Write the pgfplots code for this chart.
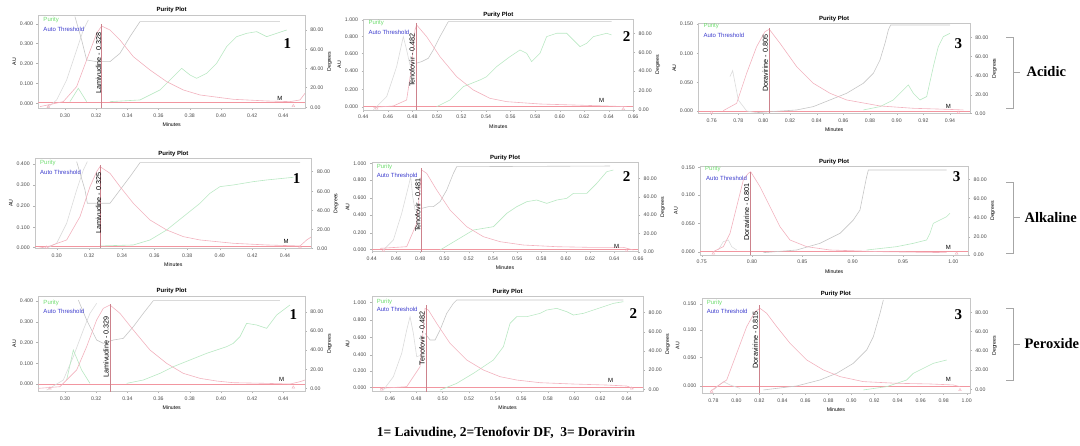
\documentclass[border=0pt]{standalone}
\usepackage{fontspec}
\setmainfont{Liberation Serif}
\setsansfont{Liberation Sans}
\usepackage{pgfplots}
\pgfplotsset{compat=1.18}
\definecolor{pinkc}{RGB}{242,178,190}
\definecolor{greenc}{RGB}{185,232,195}
\definecolor{redc}{RGB}{242,150,160}
\definecolor{vlc}{RGB}{205,130,140}
\definecolor{purc}{RGB}{110,220,110}
\definecolor{thrc}{RGB}{60,60,205}
\newcommand\ftl{\fontsize{5.2}{6}\selectfont\sffamily}
\newcommand\fttl{\fontsize{6}{7}\selectfont\sffamily\bfseries}
\newcommand\flg{\fontsize{6}{7}\selectfont\sffamily}
\newcommand\fvt{\fontsize{7.2}{8}\selectfont\sffamily}
\newcommand\fbn{\fontsize{15}{16}\selectfont\rmfamily\bfseries}
\newcommand\fsm{\fontsize{6}{7}\selectfont\sffamily}
\newcommand\fsect{\fontsize{14.5}{16}\selectfont\rmfamily\bfseries}
\newcommand\fcapt{\fontsize{13.5}{15}\selectfont\rmfamily\bfseries}
\pgfplotsset{
 pl/.style={scale only axis, anchor=north west, y dir=reverse, clip=true,
   axis line style={gray!45, line width=0.4pt},
   xtick pos=bottom, ytick pos=left,
   tick align=outside, major tick length=1.8pt, minor tick length=1pt,
   tick style={gray!60, line width=0.3pt},
   minor x tick num=3,
   tick label style={font=\ftl, text=black!70},
   title={Purity Plot}, title style={font=\fttl, yshift=-7.5pt},
   xlabel={Minutes}, xlabel style={font=\ftl, yshift=1.5pt},
   ylabel={AU}, ylabel style={font=\ftl, yshift=-3pt}},
 pr/.style={scale only axis, anchor=north west, y dir=reverse,
   axis x line=none, axis y line*=right,
   axis line style={gray!45, line width=0.4pt},
   tick align=outside, major tick length=1.8pt,
   tick style={gray!60, line width=0.3pt},
   tick label style={font=\ftl, text=black!70},
   ylabel={Degrees}, ylabel style={font=\ftl, yshift=3pt}},
 pk/.style={color=pinkc, line width=0.6pt},
 gu/.style={color=gray!45, line width=0.6pt},
 gl/.style={color=gray!28, line width=0.6pt},
 gr/.style={color=greenc, line width=0.6pt},
 bl/.style={color=redc, line width=0.4pt},
 tri/.style={only marks, mark=triangle, mark size=1.6pt, mark options={draw=pinkc, line width=0.4pt}},
 vl/.style={color=vlc, line width=0.5pt},
}
\begin{document}
\begin{tikzpicture}
\useasboundingbox (0,0) rectangle (1080pt,446pt);
% ================= Row 1 col 1
\begin{axis}[pl, at={(38.3pt,431pt)}, width=266.7pt, height=93.3pt,
  xmin=115, xmax=915, ymin=45, ymax=325,
  xtick={195,288.6,382.1,475.7,569.3,662.9,756.4,850},
  xticklabels={0.30,0.32,0.34,0.36,0.38,0.40,0.42,0.44},
  ytick={72,130,190,250,310}, yticklabels={0.400,0.300,0.200,0.100,0.000}]
\addplot[bl] coordinates {(115,308)(915,308)};
\addplot[gl] coordinates {(140,325)(170,300)(200,240)(230,150)(250,90)(265,60)};
\addplot[gu] coordinates {(225,50)(245,120)(260,180)(290,185)(330,185)(360,160)(390,110)(420,65)(840,65)};
\addplot[gr] coordinates {(210,305)(235,265)(260,305)};
\addplot[gr] coordinates {(330,305)(420,300)(480,270)(520,230)(545,205)(570,225)(590,235)(620,220)(650,190)(680,140)(710,110)(740,100)(770,95)(800,110)(830,100)(860,90)};
\addplot[pk] coordinates {(120,320)(190,305)(230,260)(260,180)(290,100)(305,78)(330,90)(360,120)(400,170)(450,210)(500,245)(550,270)(600,285)(700,298)(800,303)(870,305)(900,300)(915,280)};
\addplot[vl] coordinates {(305,325)(305,72)};
\addplot[tri] coordinates {(145,320)(880,318)};
\node[rotate=90, font=\fvt] at (axis cs:296,190) {Lamivudine - 0.328};
\node[font=\flg, text=purc, anchor=west] at (axis cs:120,60) {Purity};
\node[font=\flg, text=thrc, anchor=west] at (axis cs:120,88) {Auto Threshold};
\node[font=\fbn] at (axis cs:862,130) {1};
\node[font=\fsm] at (axis cs:840,295) {M};
\end{axis}
\begin{axis}[pr, at={(38.3pt,431pt)}, width=266.7pt, height=93.3pt,
  xmin=115, xmax=915, ymin=45, ymax=325,
  ytick={90,148,205,262,322}, yticklabels={80.00,60.00,40.00,20.00,0.00}]
\end{axis}
% ================= Row 1 col 2
\begin{axis}[pl, at={(363.3pt,426.7pt)}, width=270pt, height=90.7pt,
  xmin=70, xmax=880, ymin=58, ymax=330,
  xtick={70,143.6,217.3,290.9,364.5,438.2,511.8,585.5,659.1,732.7,806.4,880},
  xticklabels={0.44,0.46,0.48,0.50,0.52,0.54,0.56,0.58,0.60,0.62,0.64,0.66},
  ytick={60,110,160,213,268,320}, yticklabels={1.000,0.800,0.600,0.400,0.200,0.000}]
\addplot[bl] coordinates {(70,320)(880,320)};
\addplot[gl] coordinates {(100,330)(140,290)(170,200)(190,110)(200,150)(210,195)(225,190)};
\addplot[gu] coordinates {(228,190)(245,185)(265,175)(280,150)(300,110)(325,65)(815,65)};
\addplot[gr] coordinates {(290,320)(330,300)(370,260)(420,240)(440,230)(470,200)(510,170)(540,150)(560,160)(575,185)(600,160)(620,110)(650,100)(680,100)(700,120)(720,140)(740,130)(760,110)(780,105)(800,100)(815,105)};
\addplot[pk] coordinates {(100,322)(160,318)(200,300)(215,200)(225,90)(230,75)(260,110)(300,170)(350,230)(400,270)(450,295)(500,305)(600,312)(700,315)(800,318)(860,320)};
\addplot[vl] coordinates {(228,330)(228,70)};
\addplot[tri] coordinates {(110,325)(850,327)};
\node[rotate=90, font=\fvt] at (axis cs:216,180) {Tenofovir - 0.482};
\node[font=\flg, text=purc, anchor=west] at (axis cs:75,70) {Purity};
\node[font=\flg, text=thrc, anchor=west] at (axis cs:75,98) {Auto Threshold};
\node[font=\fbn] at (axis cs:860,110) {2};
\node[font=\fsm] at (axis cs:785,300) {M};
\end{axis}
\begin{axis}[pr, at={(363.3pt,426.7pt)}, width=270pt, height=90.7pt,
  xmin=70, xmax=880, ymin=58, ymax=330,
  ytick={100,157,213,272,330}, yticklabels={80.00,60.00,40.00,20.00,0.00}]
\end{axis}
% ================= Row 1 col 3
\begin{axis}[pl, at={(698.3pt,422.7pt)}, width=271.7pt, height=90pt,
  xmin=55, xmax=870, ymin=70, ymax=340,
  xtick={95,175,250,330,410,490,570,650,730,810},
  xticklabels={0.76,0.78,0.80,0.82,0.84,0.86,0.88,0.90,0.92,0.94},
  ytick={72,160,248,333}, yticklabels={0.150,0.100,0.050,0.000}]
\addplot[bl] coordinates {(55,335)(870,335)};
\addplot[gl] coordinates {(150,230)(158,212)(175,300)(200,333)(230,338)};
\addplot[gu] coordinates {(230,338)(350,330)(400,320)(450,300)(500,280)(550,250)(580,220)(600,180)(615,130)(625,90)(632,75)(810,75)};
\addplot[gr] coordinates {(550,330)(600,320)(640,300)(670,270)(685,255)(700,280)(720,300)(740,290)(760,200)(775,140)(790,110)(810,100)};
\addplot[pk] coordinates {(130,332)(170,310)(200,220)(230,140)(255,95)(268,88)(300,130)(350,200)(400,250)(450,280)(500,300)(600,318)(700,325)(800,328)(850,330)};
\addplot[vl] coordinates {(268,340)(268,85)};
\addplot[tri] coordinates {(95,338)(835,338)};
\node[rotate=90, font=\fvt] at (axis cs:256,190) {Doravirine - 0.805};
\node[font=\flg, text=purc, anchor=west] at (axis cs:60,78) {Purity};
\node[font=\flg, text=thrc, anchor=west] at (axis cs:60,105) {Auto Threshold};
\node[font=\fbn] at (axis cs:835,130) {3};
\node[font=\fsm] at (axis cs:805,318) {M};
\end{axis}
\begin{axis}[pr, at={(698.3pt,422.7pt)}, width=271.7pt, height=90pt,
  xmin=55, xmax=870, ymin=70, ymax=340,
  ytick={112,170,228,285,340}, yticklabels={80.00,60.00,40.00,20.00,0.00}]
\end{axis}
% ================= Row 2 col 1
\begin{axis}[pl, at={(35pt,287.7pt)}, width=276.7pt, height=90pt,
  xmin=105, xmax=935, ymin=55, ymax=325,
  xtick={170,267.9,365.7,463.6,561.4,659.3,757.1,855},
  xticklabels={0.30,0.32,0.34,0.36,0.38,0.40,0.42,0.44},
  ytick={72,135,198,262,322}, yticklabels={0.400,0.300,0.200,0.100,0.000}]
\addplot[bl] coordinates {(105,318)(935,318)};
\addplot[gl] coordinates {(140,325)(170,310)(200,250)(230,150)(250,90)(262,65)};
\addplot[gu] coordinates {(230,65)(255,150)(262,190)(330,190)(360,150)(390,110)(420,68)(900,68)};
\addplot[gr] coordinates {(300,318)(400,315)(450,300)(500,270)(550,230)(600,190)(630,160)(660,140)(700,135)(730,130)(760,125)(800,120)(850,115)(880,112)};
\addplot[pk] coordinates {(115,325)(150,318)(200,300)(240,230)(270,140)(290,95)(300,80)(330,100)(360,140)(400,190)(450,240)(500,270)(550,290)(600,300)(700,310)(800,315)(900,318)(920,300)(935,290)};
\addplot[vl] coordinates {(300,325)(300,75)};
\addplot[tri] coordinates {(140,322)(900,322)};
\node[rotate=90, font=\fvt] at (axis cs:296,190) {Lamivudine - 0.325};
\node[font=\flg, text=purc, anchor=west] at (axis cs:110,70) {Purity};
\node[font=\flg, text=thrc, anchor=west] at (axis cs:110,97) {Auto Threshold};
\node[font=\fbn] at (axis cs:890,115) {1};
\node[font=\fsm] at (axis cs:858,305) {M};
\end{axis}
\begin{axis}[pr, at={(35pt,287.7pt)}, width=276.7pt, height=90pt,
  xmin=105, xmax=935, ymin=55, ymax=325,
  ytick={95,155,212,268,325}, yticklabels={80.00,60.00,40.00,20.00,0.00}]
\end{axis}
% ================= Row 2 col 2
\begin{axis}[pl, at={(371.7pt,283.3pt)}, width=266.7pt, height=89pt,
  xmin=95, xmax=895, ymin=68, ymax=335,
  xtick={95,167.7,240.5,313.2,385.9,458.6,531.4,604.1,676.8,749.5,822.3,895},
  xticklabels={0.44,0.46,0.48,0.50,0.52,0.54,0.56,0.58,0.60,0.62,0.64,0.66},
  ytick={70,120,173,225,278,328}, yticklabels={1.000,0.800,0.600,0.400,0.200,0.000}]
\addplot[bl] coordinates {(95,328)(895,328)};
\addplot[gl] coordinates {(130,330)(160,300)(185,220)(205,140)(212,110)(218,170)(225,210)(240,210)};
\addplot[gu] coordinates {(245,205)(265,200)(280,200)(300,185)(320,150)(340,100)(350,80)(810,78)};
\addplot[gr] coordinates {(300,330)(350,300)(400,270)(430,265)(460,260)(500,220)(530,200)(560,185)(590,180)(620,190)(650,180)(680,175)(700,160)(740,160)(770,130)(800,95)(820,90)};
\addplot[pk] coordinates {(120,325)(200,320)(230,250)(245,90)(260,100)(290,150)(330,210)(380,260)(430,290)(480,305)(550,315)(650,320)(750,322)(850,322)(880,330)};
\addplot[vl] coordinates {(245,335)(245,85)};
\addplot[tri] coordinates {(130,332)(860,332)};
\node[rotate=90, font=\fvt] at (axis cs:233,195) {Tenofovir - 0.481};
\node[font=\flg, text=purc, anchor=west] at (axis cs:100,80) {Purity};
\node[font=\flg, text=thrc, anchor=west] at (axis cs:100,105) {Auto Threshold};
\node[font=\fbn] at (axis cs:860,110) {2};
\node[font=\fsm] at (axis cs:830,318) {M};
\end{axis}
\begin{axis}[pr, at={(371.7pt,283.3pt)}, width=266.7pt, height=89pt,
  xmin=95, xmax=895, ymin=68, ymax=335,
  ytick={115,170,225,280,335}, yticklabels={80.00,60.00,40.00,20.00,0.00}]
\end{axis}
% ================= Row 2 col 3
\begin{axis}[pl, at={(700pt,279.3pt)}, width=268.3pt, height=88.3pt,
  xmin=60, xmax=865, ymin=80, ymax=345,
  xtick={65,216,367,518,669,820},
  xticklabels={0.75,0.80,0.85,0.90,0.95,1.00},
  ytick={82,165,250,335}, yticklabels={0.150,0.100,0.050,0.000}]
\addplot[bl] coordinates {(60,335)(865,335)};
\addplot[gl] coordinates {(115,330)(130,305)(145,300)(155,320)(170,330)};
\addplot[gu] coordinates {(250,338)(350,330)(420,310)(480,280)(520,240)(540,210)(550,160)(560,110)(565,90)(800,90)};
\addplot[gr] coordinates {(560,330)(650,320)(700,310)(740,300)(750,280)(760,250)(780,240)(800,230)(810,220)};
\addplot[pk] coordinates {(100,335)(130,320)(150,280)(170,200)(190,120)(205,100)(212,95)(240,140)(270,200)(300,260)(330,300)(380,320)(450,330)(600,335)(800,338)};
\addplot[vl] coordinates {(212,345)(212,95)};
\addplot[tri] coordinates {(100,340)(830,340)};
\node[rotate=90, font=\fvt] at (axis cs:200,215) {Doravirine - 0.801};
\node[font=\flg, text=purc, anchor=west] at (axis cs:65,88) {Purity};
\node[font=\flg, text=thrc, anchor=west] at (axis cs:68,115) {Auto Threshold};
\node[font=\fbn] at (axis cs:830,110) {3};
\node[font=\fsm] at (axis cs:805,322) {M};
\end{axis}
\begin{axis}[pr, at={(700pt,279.3pt)}, width=268.3pt, height=88.3pt,
  xmin=60, xmax=865, ymin=80, ymax=345,
  ytick={118,175,232,290,345}, yticklabels={80.00,60.00,40.00,20.00,0.00}]
\end{axis}
% ================= Row 3 col 1
\begin{axis}[pl, at={(38.3pt,150pt)}, width=266.7pt, height=95.7pt,
  xmin=115, xmax=915, ymin=48, ymax=335,
  xtick={195,288.6,382.1,475.7,569.3,662.9,756.4,850},
  xticklabels={0.30,0.32,0.34,0.36,0.38,0.40,0.42,0.44},
  ytick={62,125,187,250,312}, yticklabels={0.400,0.300,0.200,0.100,0.000}]
\addplot[bl] coordinates {(115,312)(915,312)};
\addplot[gl] coordinates {(140,330)(190,300)(220,230)(250,150)(270,100)(290,70)};
\addplot[gu] coordinates {(235,60)(260,120)(290,180)(310,190)(340,180)(370,175)(400,140)(430,100)(460,62)(840,62)};
\addplot[gr] coordinates {(200,300)(220,210)(245,270)(270,310)};
\addplot[gr] coordinates {(380,310)(430,300)(480,280)(520,260)(570,240)(620,220)(680,200)(700,190)(720,170)(740,130)(770,135)(800,145)(830,105)(850,90)(870,75)};
\addplot[pk] coordinates {(115,325)(180,320)(230,270)(260,200)(290,120)(310,85)(330,75)(360,100)(400,150)(450,210)(500,250)(550,280)(600,295)(650,303)(700,308)(800,310)(870,312)(900,305)(915,300)};
\addplot[vl] coordinates {(330,335)(330,72)};
\addplot[tri] coordinates {(150,325)(880,322)};
\node[rotate=90, font=\fvt] at (axis cs:318,200) {Lamivudine - 0.329};
\node[font=\flg, text=purc, anchor=west] at (axis cs:120,68) {Purity};
\node[font=\flg, text=thrc, anchor=west] at (axis cs:120,93) {Auto Threshold};
\node[font=\fbn] at (axis cs:880,105) {1};
\node[font=\fsm] at (axis cs:845,298) {M};
\end{axis}
\begin{axis}[pr, at={(38.3pt,150pt)}, width=266.7pt, height=95.7pt,
  xmin=115, xmax=915, ymin=48, ymax=335,
  ytick={95,152,210,268,325}, yticklabels={80.00,60.00,40.00,20.00,0.00}]
\end{axis}
% ================= Row 3 col 2
\begin{axis}[pl, at={(371.7pt,149.3pt)}, width=271.7pt, height=95pt,
  xmin=95, xmax=910, ymin=50, ymax=335,
  xtick={150,228.9,307.8,386.7,465.6,544.4,623.3,702.2,781.1,860},
  xticklabels={0.46,0.48,0.50,0.52,0.54,0.56,0.58,0.60,0.62,0.64},
  ytick={67,120,172,225,272,322}, yticklabels={1.000,0.800,0.600,0.400,0.200,0.000}]
\addplot[bl] coordinates {(95,322)(910,322)};
\addplot[gl] coordinates {(130,330)(160,290)(185,220)(200,150)(210,110)(220,160)(230,230)(245,225)};
\addplot[gu] coordinates {(255,160)(270,180)(285,180)(300,150)(320,100)(340,70)(350,60)(850,60)};
\addplot[gr] coordinates {(300,330)(350,310)(400,280)(430,260)(460,240)(490,200)(510,130)(530,110)(560,110)(600,100)(620,90)(650,85)(680,95)(700,105)(730,100)(760,90)(790,80)(820,70)(850,65)};
\addplot[pk] coordinates {(120,325)(200,320)(240,260)(255,85)(265,90)(290,130)(330,190)(380,240)(430,270)(480,290)(530,300)(600,308)(700,312)(800,315)(860,318)(880,325)};
\addplot[vl] coordinates {(258,335)(258,75)};
\addplot[tri] coordinates {(125,328)(875,325)};
\node[rotate=90, font=\fvt] at (axis cs:246,175) {Tenofovir - 0.482};
\node[font=\flg, text=purc, anchor=west] at (axis cs:100,66) {Purity};
\node[font=\flg, text=thrc, anchor=west] at (axis cs:100,88) {Auto Threshold};
\node[font=\fbn] at (axis cs:880,100) {2};
\node[font=\fsm] at (axis cs:812,300) {M};
\end{axis}
\begin{axis}[pr, at={(371.7pt,149.3pt)}, width=271.7pt, height=95pt,
  xmin=95, xmax=910, ymin=50, ymax=335,
  ytick={97,155,212,270,328}, yticklabels={80.00,60.00,40.00,20.00,0.00}]
\end{axis}
% ================= Row 3 col 3
\begin{axis}[pl, at={(701.7pt,147.7pt)}, width=268.3pt, height=95pt,
  xmin=65, xmax=870, ymin=55, ymax=340,
  xtick={100,169.1,238.2,307.3,376.4,445.5,514.5,583.6,652.7,721.8,790.9,860},
  xticklabels={0.78,0.80,0.82,0.84,0.86,0.88,0.90,0.92,0.94,0.96,0.98,1.00},
  ytick={72,150,232,318}, yticklabels={0.150,0.100,0.050,0.000}]
\addplot[bl] coordinates {(65,318)(870,318)};
\addplot[gl] coordinates {(100,330)(130,305)(150,315)(180,325)};
\addplot[gu] coordinates {(250,330)(350,318)(420,300)(470,280)(520,250)(560,210)(580,170)(600,100)(610,60)};
\addplot[gr] coordinates {(550,330)(620,320)(680,300)(700,280)(720,270)(740,260)(760,250)(780,245)(800,240)};
\addplot[pk] coordinates {(90,335)(110,320)(140,300)(170,220)(200,140)(225,95)(240,85)(260,100)(290,140)(330,190)(380,240)(430,270)(480,290)(550,305)(650,310)(750,312)(820,315)(840,320)};
\addplot[vl] coordinates {(238,340)(238,75)};
\addplot[tri] coordinates {(95,335)(840,330)};
\node[rotate=90, font=\fvt] at (axis cs:226,180) {Doravirine - 0.815};
\node[font=\flg, text=purc, anchor=west] at (axis cs:70,70) {Purity};
\node[font=\flg, text=thrc, anchor=west] at (axis cs:70,93) {Auto Threshold};
\node[font=\fbn] at (axis cs:835,105) {3};
\node[font=\fsm] at (axis cs:805,298) {M};
\end{axis}
\begin{axis}[pr, at={(701.7pt,147.7pt)}, width=268.3pt, height=95pt,
  xmin=65, xmax=870, ymin=55, ymax=340,
  ytick={97,155,212,270,328}, yticklabels={80.00,60.00,40.00,20.00,0.00}]
\end{axis}
% ================= brackets and labels
\draw[gray!70, line width=0.6pt] (1006pt,409pt) -- (1013pt,409pt) -- (1013pt,338pt) -- (1006pt,338pt);
\draw[gray!70, line width=0.6pt] (1013pt,374pt) -- (1020pt,374pt);
\node[anchor=west, font=\fsect] at (1023pt,374pt) {Acidic};
\draw[gray!70, line width=0.6pt] (1006pt,264pt) -- (1013pt,264pt) -- (1013pt,193pt) -- (1006pt,193pt);
\draw[gray!70, line width=0.6pt] (1013pt,228.5pt) -- (1020pt,228.5pt);
\node[anchor=west, font=\fsect] at (1021pt,228.5pt) {Alkaline};
\draw[gray!70, line width=0.6pt] (1006pt,138pt) -- (1013pt,138pt) -- (1013pt,66pt) -- (1006pt,66pt);
\draw[gray!70, line width=0.6pt] (1013pt,102pt) -- (1020pt,102pt);
\node[anchor=west, font=\fsect] at (1021pt,102pt) {Peroxide};
\node[font=\fcapt] at (506pt,13pt) {1= Laivudine, 2=Tenofovir DF,\ \ 3= Doravirin};
\end{tikzpicture}
\end{document}
